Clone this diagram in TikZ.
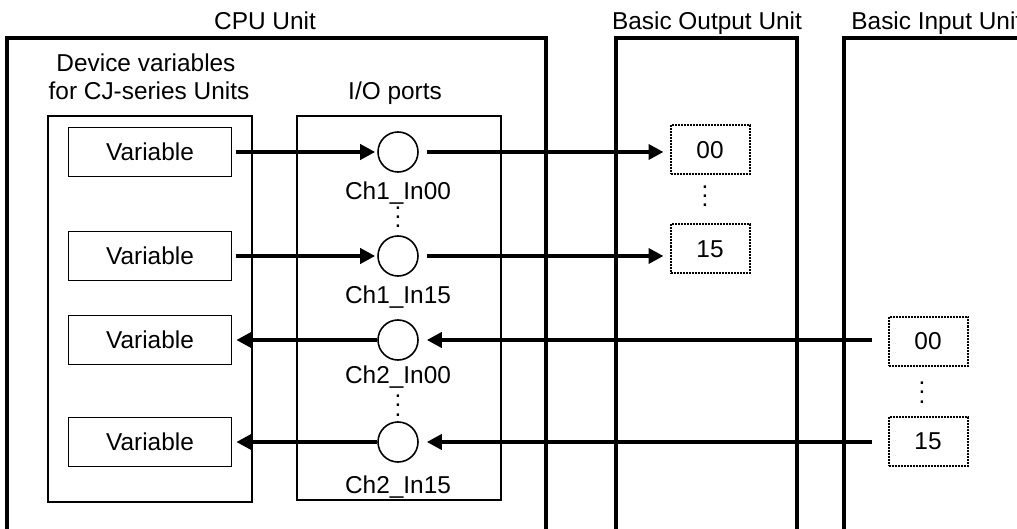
\documentclass[tikz,border=0pt]{standalone}
\usepackage{fontspec}
\setmainfont{Liberation Sans}
\usepackage{tikz}
\usetikzlibrary{arrows.meta, positioning, calc}
\newcommand\bitdots{\vbox{\baselineskip4.6pt\lineskiplimit0pt\hbox{.}\hbox{.}\hbox{.}}}
\tikzset{every node/.style={font=\fontsize{12.2}{14}\selectfont}, >={Triangle[length=7.5pt, width=7.5pt]}}

\begin{document}
\begin{tikzpicture}[
    x=0.5pt, y=-0.5pt,
    unit/.style={
        line width=2.2pt
    },
    group/.style={
        draw,
        line width=0.7pt,
        inner sep=0pt,
        minimum width=102pt
    },
    var/.style={
        draw,
        line width=0.8pt,
        minimum width=81.5pt,
        minimum height=24.5pt,
        inner sep=0pt
    },
    port/.style={
        draw,
        circle,
        line width=0.8pt,
        minimum size=20pt,
        inner sep=0pt
    },
    bit/.style={
        draw,
        dash pattern=on 1pt off 0.5pt,
        line width=1pt,
        minimum width=39.5pt,
        minimum height=24.5pt,
        inner sep=0pt
    },
    dots/.style={
        anchor=base,
        inner sep=0pt
    },
    arrow/.style={
        ->,
        line width=2.1pt
    }
]

\useasboundingbox (0,0) rectangle (1017,529);
\clip (0,0) rectangle (1017,529);

% units, open at the bottom
\draw[unit] (7,545) -- (7,38) -- (546,38) -- (546,545);
\draw[unit] (616,545) -- (616,38) -- (797,38) -- (797,545);
\draw[unit] (844,545) -- (844,38) -- (1040,38);

\node[anchor=base] (cpu) at (265,30) {CPU Unit};
\node[anchor=base] (out) at (707,30) {Basic Output Unit};
\node[anchor=base west, inner sep=0pt] (in) at (851,30) {Basic Input Unit};

% CPU unit contents
\node[group, minimum height=193pt] (dev) at (150,309) {};
\node[group, minimum height=192pt] (io) at (399,308) {};
\node[anchor=base] (devA) at (146,72) {Device variables};
\node[anchor=base] (devB) at (149,100) {for CJ-series Units};
\node[anchor=base] (iolbl) at (395,100) {I/O ports};

\node[var] (v1) at (150,152) {Variable};
\node[var] (v2) at (150,256) {Variable};
\node[var] (v3) at (150,340) {Variable};
\node[var] (v4) at (150,442) {Variable};

\node[port] (p1) at (398,152) {};
\node[port] (p2) at (398,256) {};
\node[port] (p3) at (398,340) {};
\node[port] (p4) at (398,442) {};

\node[anchor=base] (l1) at (398,200) {Ch1\_In00};
\node[anchor=base] (l2) at (398,304) {Ch1\_In15};
\node[anchor=base] (l3) at (398,383) {Ch2\_In00};
\node[anchor=base] (l4) at (398,493) {Ch2\_In15};
\node[dots] (d1) at (398,228) {\bitdots};
\node[dots] (d2) at (398,416) {\bitdots};

% output and input bits
\node[bit] (o1) at (710,150) {00};
\node[bit] (o2) at (710,249) {15};
\node[dots] (d3) at (705,207) {\bitdots};
\node[bit] (i1) at (928,341) {00};
\node[bit] (i2) at (928,441) {15};
\node[dots] (d4) at (922,403) {\bitdots};

\draw[arrow, shorten <=2pt, shorten >=1pt] (v1) -- (p1);
\draw[arrow, shorten <=2pt, shorten >=1pt] (v2) -- (p2);
\draw[arrow, shorten <=4pt, shorten >=3pt] (p1) -- (p1 -| o1.west);
\draw[arrow, shorten <=4pt, shorten >=3pt] (p2) -- (p2 -| o2.west);

\draw[arrow, shorten <=8pt, shorten >=4pt] (p3 -| i1.west) -- (p3);
\draw[arrow, shorten <=8pt, shorten >=4pt] (p4 -| i2.west) -- (p4);
\draw[arrow, shorten >=2pt] (p3) -- (v3);
\draw[arrow, shorten >=2pt] (p4) -- (v4);

\end{tikzpicture}
\end{document}
